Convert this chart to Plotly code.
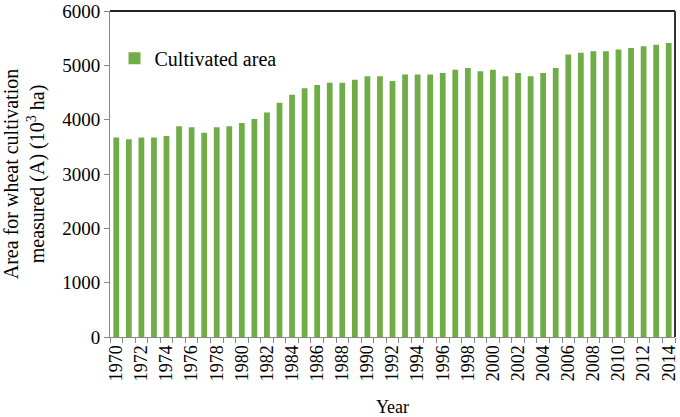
import plotly.graph_objects as go

years = list(range(1970, 2015))
area = [3670, 3640, 3670, 3670, 3700, 3880, 3860, 3760, 3860, 3880,
        3940, 4010, 4130, 4310, 4460, 4580, 4640, 4680, 4680, 4735,
        4800, 4800, 4710, 4830, 4830, 4830, 4860, 4920, 4950, 4890,
        4920, 4800, 4860, 4800, 4860, 4950, 5200, 5230, 5260, 5260,
        5290, 5320, 5350, 5380, 5410]
tick_years = years[::2]
tick_labels = [str(y) for y in tick_years]
boundaries = [y - 0.5 for y in years] + [years[-1] + 0.5]

FONT = "Liberation Serif"
GREEN = "#70AD47"

fig = go.Figure()
fig.add_trace(go.Bar(x=years, y=area, name="Cultivated area",
                     marker=dict(color=GREEN, line=dict(width=0)),
                     width=0.46))

fig.update_layout(
    width=680, height=417,
    margin=dict(l=110, r=5, t=11, b=80, autoexpand=False),
    paper_bgcolor="white", plot_bgcolor="white",
    font=dict(family=FONT, size=18, color="#000000"),
    showlegend=True,
    legend=dict(x=0.008, y=0.855, xanchor="left", yanchor="middle",
                bgcolor="rgba(0,0,0,0)", font=dict(family=FONT, size=20),
                itemwidth=30, tracegroupgap=0),
    xaxis=dict(range=[years[0] - 0.5, years[-1] + 0.5], automargin=False,
               tickmode="array", tickvals=tick_years, ticktext=tick_labels,
               tickangle=-90, ticks="", showgrid=False, zeroline=False,
               showline=True, linecolor="#888888", linewidth=1,
               tickfont=dict(family=FONT, size=18),
               minor=dict(tickmode="array", tickvals=boundaries, ticks="outside",
                          ticklen=5, tickcolor="#888888", showgrid=False),
               title=dict(text="Year", font=dict(family=FONT, size=18), standoff=20)),
    yaxis=dict(range=[0, 6000], dtick=1000, ticks="outside", ticklen=5,
               automargin=False,
               tickcolor="#888888", showgrid=False, zeroline=False,
               showline=True, linecolor="#888888", linewidth=1,
               tickfont=dict(family=FONT, size=19),
               title=dict(text="Area for wheat cultivation<br>measured (A) (10<sup>3</sup> ha)",
                          font=dict(family=FONT, size=20), standoff=20)),
    bargap=0.52,
)
fig.add_shape(type="line", xref="paper", yref="paper", x0=0, x1=1, y0=1, y1=1,
              line=dict(color="#222222", width=2))
fig.add_shape(type="line", xref="paper", yref="paper", x0=1, x1=1, y0=0, y1=1,
              line=dict(color="#333333", width=2))

fig.write_html("out.html", config={"displayModeBar": False},
               post_script="document.body.style.margin='0px';")
